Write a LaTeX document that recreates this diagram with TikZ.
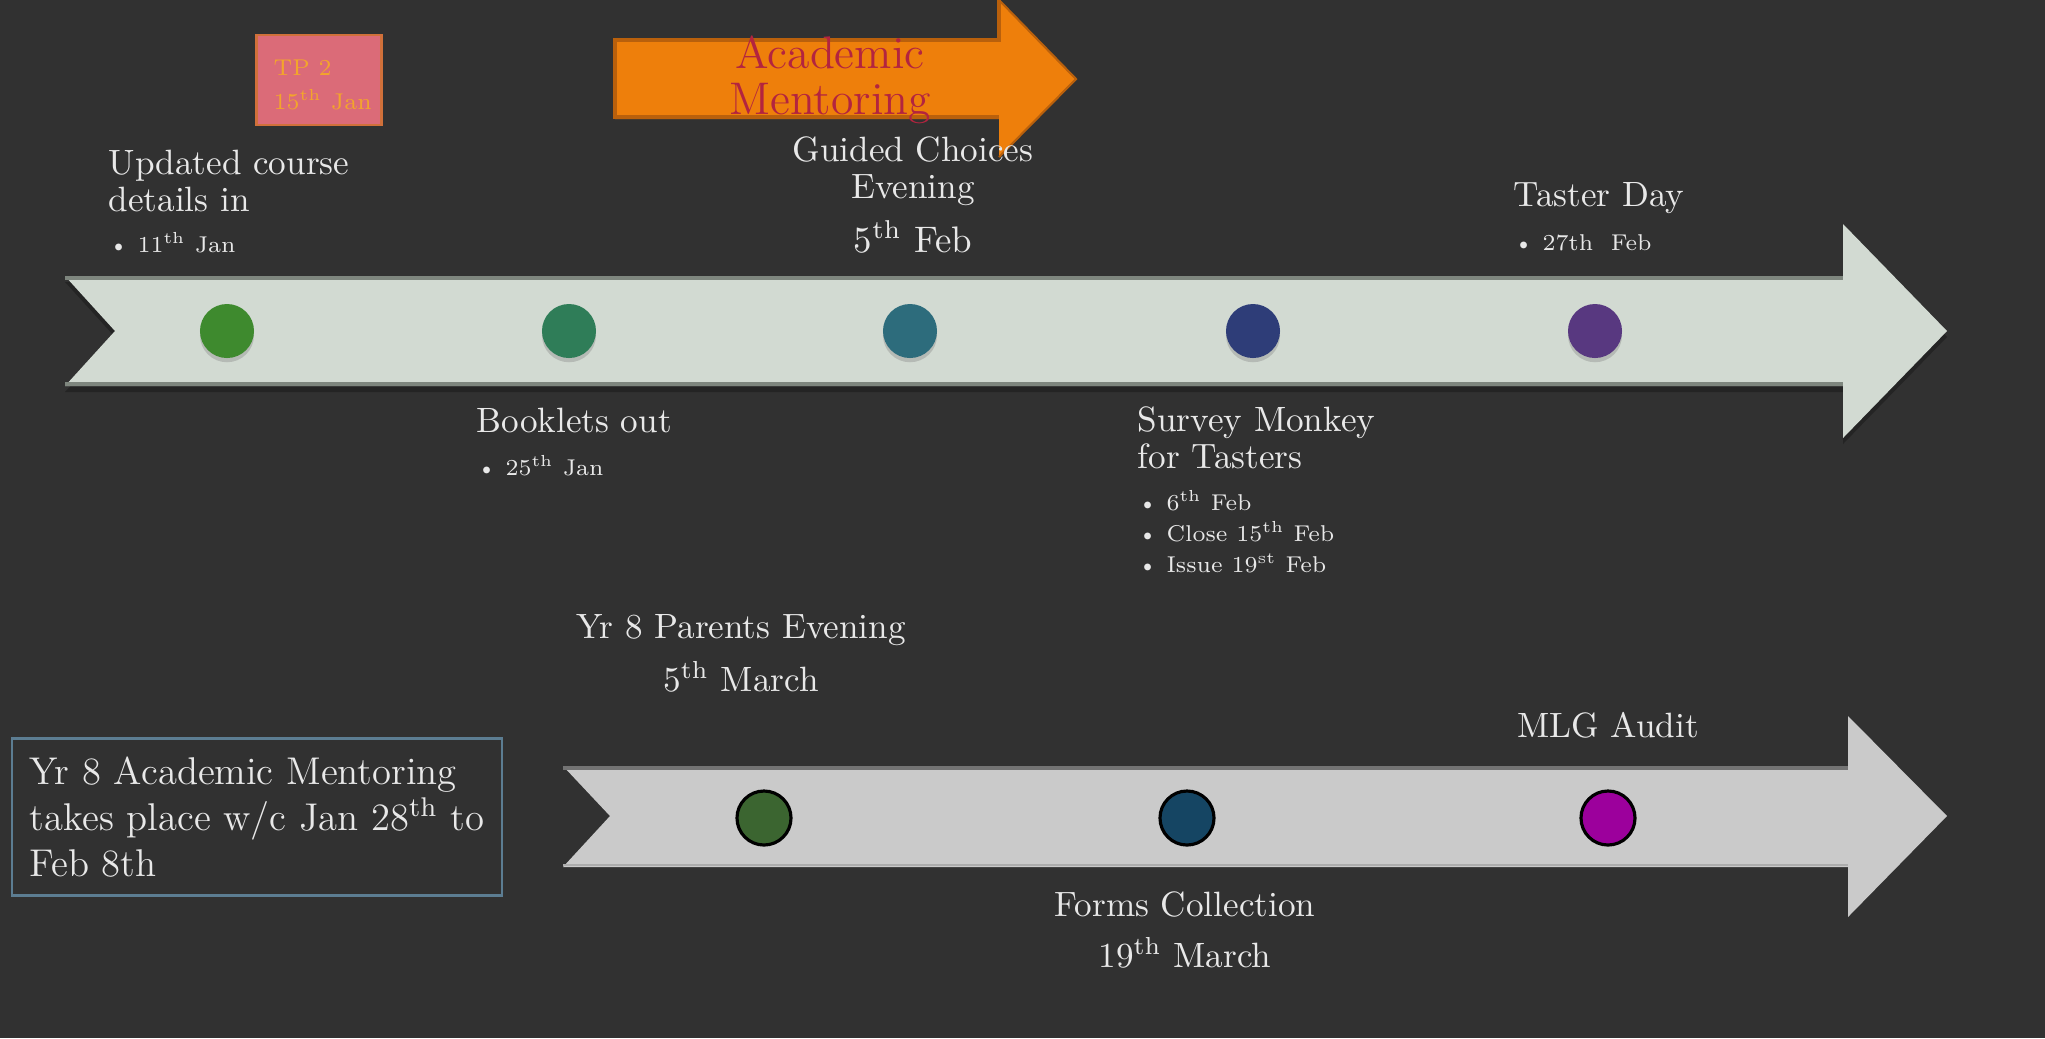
\documentclass[tikz,border=0pt]{standalone}
\usepackage{xcolor}
\usepackage{tikz}
\usetikzlibrary{calc}
\usetikzlibrary{shadows}

\definecolor{bgdark}{HTML}{313131}
\definecolor{labelgray}{HTML}{E8E8E8}
\definecolor{barone}{HTML}{D2DAD2}
\definecolor{baroneedge}{HTML}{7E867E}
\definecolor{bartwo}{HTML}{CACACA}
\definecolor{bartwoedge}{HTML}{737373}
\definecolor{mentorfill}{HTML}{EE7F0B}
\definecolor{mentorline}{HTML}{B9600C}
\definecolor{mentortext}{HTML}{B3243F}
\definecolor{tpfill}{HTML}{DB6B78}
\definecolor{tpline}{HTML}{D0703A}
\definecolor{tptext}{HTML}{F3A52B}
\definecolor{boxline}{HTML}{5C7D92}
\definecolor{dotone}{HTML}{3E8A2E}
\definecolor{dottwo}{HTML}{2F7D58}
\definecolor{dotthree}{HTML}{2D6C7C}
\definecolor{dotfour}{HTML}{2E3D78}
\definecolor{dotfive}{HTML}{583880}
\definecolor{lowone}{HTML}{3B6530}
\definecolor{lowtwo}{HTML}{154563}
\definecolor{lowthree}{HTML}{9C009C}

\newcommand{\dotitem}{\textbullet\hspace{2.5pt}}
\newcommand{\tsup}[1]{\textsuperscript{#1}}

\tikzstyle{every node}=[text=labelgray, inner sep=0pt, font=\fontsize{10}{10.5}\selectfont]
\tikzstyle{bullettext}=[font=\fontsize{6.5}{8.8}\selectfont, align=left, anchor=west]
\tikzstyle{topdot}=[circle, minimum size=0.54cm, drop shadow={shadow xshift=0pt, shadow yshift=-1.2pt, opacity=0.35}]
\tikzstyle{lowdot}=[circle, minimum size=0.54cm, draw=black, line width=0.9pt]

\begin{document}
\begin{tikzpicture}[x=0.01cm, y=-0.01cm]
    \fill[bgdark] (0, 0) rectangle (2045, 1038);
    \useasboundingbox (0, 0) rectangle (2045, 1038);

    % upper timeline
    \fill[black, opacity=0.25] (65, 282) -- (1843, 282) -- (1843, 230) -- (1947, 337) -- (1843, 444) -- (1843, 392) -- (65, 392) -- (115, 337) -- cycle;
    \fill[barone] (65, 276) -- (1843, 276) -- (1843, 224) -- (1947, 331) -- (1843, 438) -- (1843, 386) -- (65, 386) -- (115, 331) -- cycle;
    \draw[baroneedge, line width=1pt] (65, 278) -- (1843, 278);
    \draw[baroneedge, line width=1pt] (65, 384) -- (1843, 384);

    \node[topdot, fill=dotone] (jan11) at (227, 331) {};
    \node[topdot, fill=dottwo] (jan25) at (569, 331) {};
    \node[topdot, fill=dotthree] (feb5) at (910, 331) {};
    \node[topdot, fill=dotfour] (feb6) at (1253, 331) {};
    \node[topdot, fill=dotfive] (feb27) at (1595, 331) {};

    % lower timeline
    \fill[bartwo] (563, 766) -- (1848, 766) -- (1848, 716) -- (1947, 816) -- (1848, 917) -- (1848, 867) -- (563, 867) -- (610, 816) -- cycle;
    \draw[bartwoedge, line width=1pt] (563, 768) -- (1848, 768);
    \draw[black!15!bartwo, line width=0.6pt] (563, 865) -- (1848, 865);

    \node[lowdot, fill=lowone] (mar5) at (764, 818) {};
    \node[lowdot, fill=lowtwo] (mar19) at (1187, 818) {};
    \node[lowdot, fill=lowthree] (audit) at (1608, 818) {};

    % academic mentoring arrow
    \fill[mentorfill] (615, 38) -- (999, 38) -- (999, 0) -- (1076, 79) -- (999, 157) -- (999, 119) -- (615, 119) -- cycle;
    \draw[mentorline, line width=1.2pt] (999, 0) -- (999, 40) -- (615, 40) -- (615, 117) -- (999, 117);
    \draw[mentorline, line width=0.6pt] (999, 0) -- (1076, 79) -- (999, 157);
    \node[text=mentortext, align=center, font=\fontsize{13}{13}\selectfont] (mentor) at (830, 80) {Academic\\Mentoring};

    % TP 2 box
    \node[fill=tpfill, draw=tpline, line width=0.6pt, minimum width=1.25cm, minimum height=0.9cm] (tpbox) at (319, 80) {};
    \node[text=tptext, align=left, anchor=west, font=\fontsize{6.5}{9.7}\selectfont] (tp) at (273, 85) {TP 2\\15\tsup{th} Jan};

    % labels above and below
    \node[align=left, anchor=west] (course) at (108, 181) {Updated course\\details in};
    \node[bullettext] (coursedate) at (108, 243) {\dotitem 11\tsup{th} Jan};

    \node[align=center] (guided) at (913, 171) {Guided Choices\\Evening};
    \node[font=\fontsize{10.5}{11}\selectfont] (guideddate) at (913, 237) {5\tsup{th} Feb};

    \node[anchor=west] (taster) at (1513, 198) {Taster Day};
    \node[bullettext] (tasterdate) at (1513, 243) {\dotitem 27th\ \ Feb};

    \node[anchor=west] (booklets) at (476, 420) {Booklets out};
    \node[bullettext] (bookletsdate) at (476, 466) {\dotitem 25\tsup{th} Jan};

    \node[align=left, anchor=west] (survey) at (1137, 438) {Survey Monkey\\for Tasters};
    \node[bullettext] (surveydates) at (1137, 532) {\dotitem 6\tsup{th} Feb\\\dotitem Close 15\tsup{th} Feb\\\dotitem Issue 19\tsup{st} Feb};

    \node (parents) at (741, 630) {Yr 8 Parents Evening};
    \node (parentsdate) at (741, 677) {5\tsup{th} March};

    \node (mlg) at (1608, 725) {MLG Audit};

    \node (forms) at (1185, 904) {Forms Collection};
    \node (formsdate) at (1185, 953) {19\tsup{th} March};

    % note box
    \node[draw=boxline, line width=0.7pt, minimum width=4.9cm, minimum height=1.57cm] (notebox) at (257, 817) {};
    \node[align=left, anchor=west, font=\fontsize{11}{13.2}\selectfont] (note) at (29, 817) {Yr 8 Academic Mentoring\\takes place w/c Jan 28\tsup{th} to\\Feb 8th};
\end{tikzpicture}
\end{document}
